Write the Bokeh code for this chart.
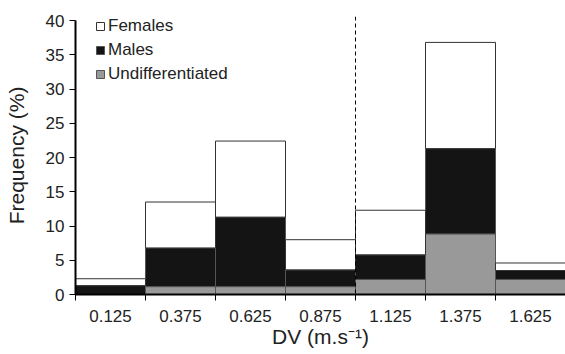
import numpy as np
from bokeh.plotting import figure
from bokeh.models import Range1d, FixedTicker, Span, Legend, LegendItem
from bokeh.embed import file_html
from bokeh.resources import INLINE

# Data (percent frequency per DV class)
dv_centers = [0.125, 0.375, 0.625, 0.875, 1.125, 1.375, 1.625]
tick_labels = ["0.125", "0.375", "0.625", "0.875", "1.125", "1.375", "1.625"]
class_edges = [0.0, 0.25, 0.5, 0.75, 1.0, 1.25, 1.5]
y_ticks = [0, 5, 10, 15, 20, 25, 30, 35, 40]
undifferentiated = [0.0, 1.15, 1.15, 1.15, 2.2, 8.85, 2.2]
males = [1.3, 5.65, 10.15, 2.45, 3.6, 12.45, 1.3]
females = [1.0, 6.7, 11.1, 4.4, 6.5, 15.5, 1.1]
threshold = 1.0
x_title = "DV (m.s\u207b\u00b9)"
y_title = "Frequency (%)"

FONT = "Liberation Sans"

# frame spans y=16..294 px; 40 sits at y=20, small headroom for legend / dashed line
p = figure(width=565, height=354, output_backend="svg", toolbar_location=None,
           x_range=Range1d(0, 1.75), y_range=Range1d(0, 40.584),
           min_border_left=75, min_border_right=0, min_border_top=16, min_border_bottom=60)
p.outline_line_color = None
p.grid.visible = False
p.background_fill_color = "white"
p.border_fill_color = "white"

u = np.array(undifferentiated)
m = np.array(males)
f = np.array(females)
b1 = u
b2 = u + m
b3 = u + m + f

line_c = "#555555"
r_u = p.vbar(x=dv_centers, width=0.25, bottom=0, top=b1, fill_color="#999999", line_color=line_c, line_width=1)
r_m = p.vbar(x=dv_centers, width=0.25, bottom=b1, top=b2, fill_color="#141414", line_color=line_c, line_width=1)
r_f = p.vbar(x=dv_centers, width=0.25, bottom=b2, top=b3, fill_color="white", line_color="#333333", line_width=1)

p.add_layout(Span(location=threshold, dimension="height", line_color="black",
                  line_dash="4 3", line_width=1))

# axes
xa = p.xaxis[0]
xa.ticker = FixedTicker(ticks=dv_centers, minor_ticks=class_edges)
xa.major_label_overrides = {c: l for c, l in zip(dv_centers, tick_labels)}
xa.major_tick_line_color = None
xa.major_tick_out = 0
xa.major_tick_in = 0
xa.minor_tick_out = 6
xa.minor_tick_in = 0
xa.minor_tick_line_color = "black"
xa.minor_tick_line_width = 1
xa.major_label_standoff = 9
xa.axis_line_width = 2
xa.axis_line_color = "black"
xa.axis_label = x_title
xa.axis_label_standoff = 0

ya = p.yaxis[0]
ya.ticker = FixedTicker(ticks=y_ticks)
ya.bounds = (0, 40)
ya.major_tick_out = 6
ya.major_tick_in = 0
ya.minor_tick_line_color = None
ya.axis_line_width = 2
ya.axis_line_color = "black"
ya.major_label_standoff = 5
ya.axis_label = y_title
ya.axis_label_standoff = 15

for ax in (xa, ya):
    ax.major_label_text_font = FONT
    ax.major_label_text_font_size = "17px"
    ax.major_label_text_color = "#222222"
    ax.axis_label_text_font = FONT
    ax.axis_label_text_font_size = "21px"
    ax.axis_label_text_font_style = "normal"
    ax.axis_label_text_color = "#222222"

legend = Legend(items=[LegendItem(label="Females", renderers=[r_f]),
                       LegendItem(label="Males", renderers=[r_m]),
                       LegendItem(label="Undifferentiated", renderers=[r_u])],
                location=(20, 210), margin=0, padding=0,
                glyph_width=10, glyph_height=10, label_height=20, spacing=4,
                label_standoff=3, label_text_font=FONT, label_text_font_size="17px",
                label_text_color="#222222", background_fill_alpha=0, border_line_color=None)
p.add_layout(legend)

open("out.html", "w").write(file_html(p, INLINE))
